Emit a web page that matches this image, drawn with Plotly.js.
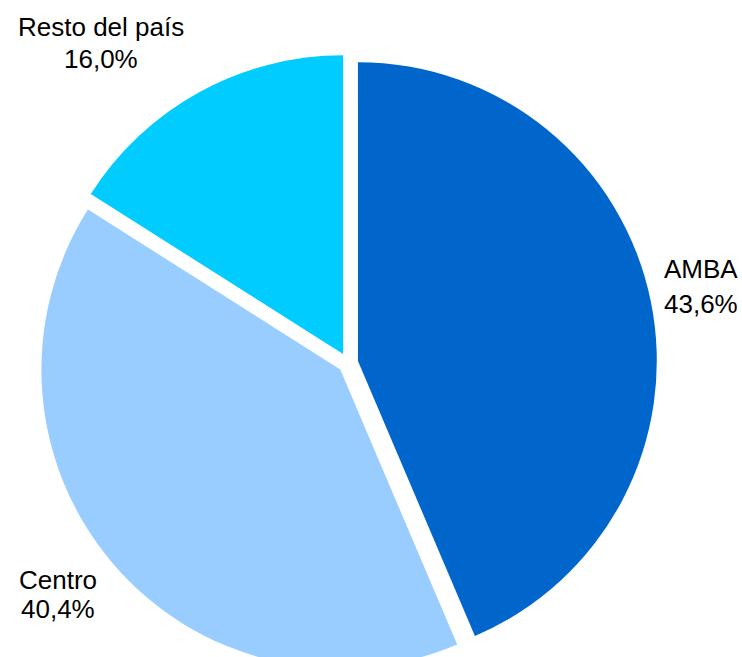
<!DOCTYPE html>
<html>
<head>
<meta charset="utf-8">
<script src="https://cdn.plot.ly/plotly-3.0.1.min.js"></script>
<style>
html, body { margin: 0; padding: 0; overflow: hidden; background: #fff; }
#chart { width: 742px; height: 680px; }
</style>
</head>
<body>
<div id="chart"></div>
<script>
// Data
const categories = ["AMBA", "Centro", "Resto del país"];
const shares = [43.6, 40.4, 16.0];
const colors = ["#0066CC", "#99CCFF", "#00CCFF"];

// Label placement (pixel centers of each text line)
const labelPos = {
  "AMBA": { x: 701, y1: 269, y2: 304 },
  "Centro": { x: 58, y1: 580, y2: 609 },
  "Resto del país": { x: 101, y1: 27, y2: 59 }
};

const W = 742, H = 680;
const M = { l: 39, r: 85, t: 54, b: 8 };
const pw = W - M.l - M.r, ph = H - M.t - M.b;
const toPX = px => (px - M.l) / pw;
const toPY = py => 1 - (py - M.t) / ph;

const fmt = v => v.toFixed(1).replace('.', ',') + '%';
const font = { family: '"Liberation Sans", Arial, sans-serif', size: 26, color: '#000' };

const annotations = [];
categories.forEach((c, i) => {
  const p = labelPos[c];
  annotations.push({ text: c, x: toPX(p.x), y: toPY(p.y1), xref: 'paper', yref: 'paper',
    xanchor: 'center', yanchor: 'middle', showarrow: false, font: font });
  annotations.push({ text: fmt(shares[i]), x: toPX(p.x), y: toPY(p.y2), xref: 'paper', yref: 'paper',
    xanchor: 'center', yanchor: 'middle', showarrow: false, font: font });
});

const trace = {
  type: 'pie',
  labels: categories,
  values: shares,
  marker: { colors: colors, line: { width: 0 } },
  sort: false,
  direction: 'clockwise',
  rotation: 0,
  pull: [0.034, 0.034, 0.034],
  textinfo: 'none',
  hoverinfo: 'label+percent',
  showlegend: false,
  domain: { x: [0, 1], y: [0, 1] }
};

const layout = {
  width: W, height: H,
  margin: M,
  paper_bgcolor: '#fff',
  plot_bgcolor: '#fff',
  showlegend: false,
  separators: ',.',
  font: font,
  annotations: annotations
};

Plotly.newPlot('chart', [trace], layout, { displayModeBar: false, staticPlot: true });
</script>
</body>
</html>
